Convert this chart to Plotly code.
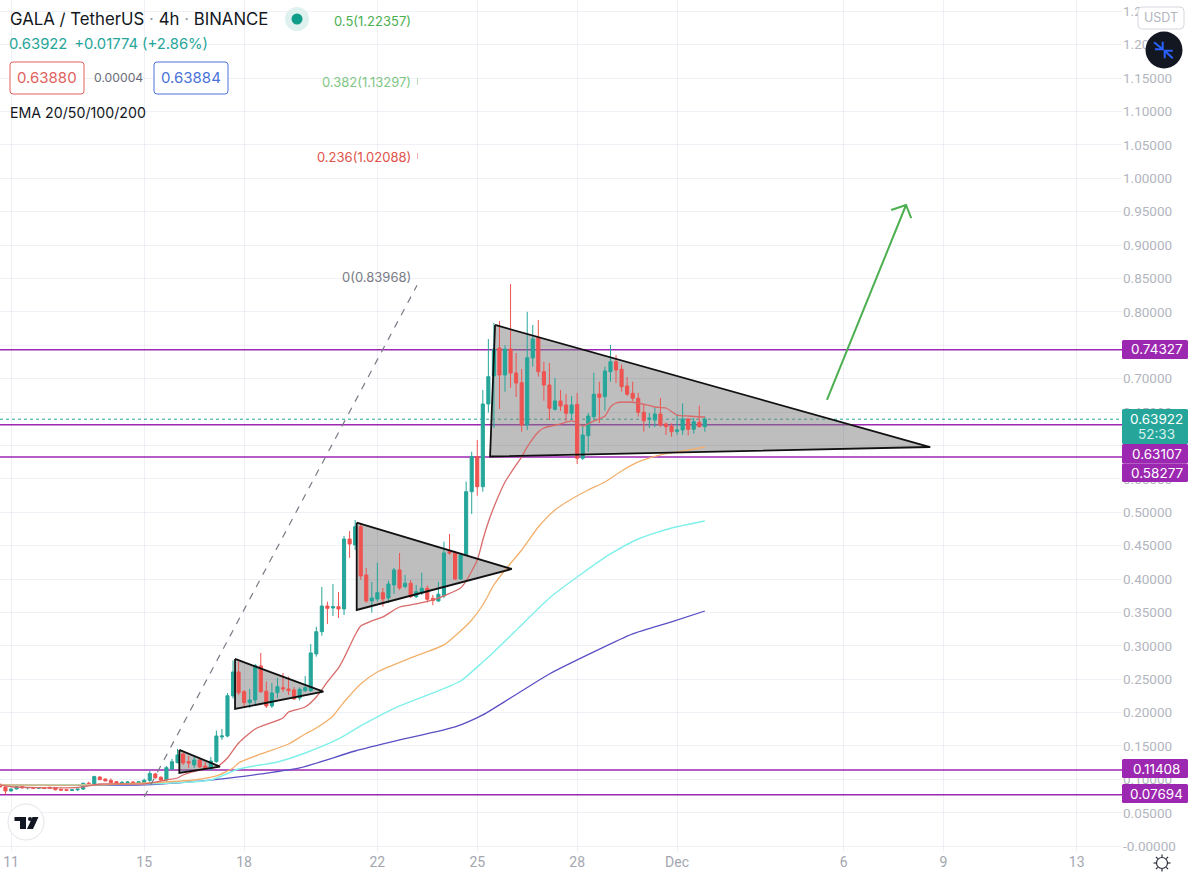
import pandas as pd
import plotly.graph_objects as go

# 4h GALA/USDT candles, first bar 2021-11-10 16:00
opens = [.0927,.0887,.0827,.0857,.0892,.0875,.0878,.0868,.0873,.0880,
         .0880,.0850,.0845,.0835,.0845,.0855,.0942,.0917,.1035,.1005,
         .0985,.0965,.0937,.0950,.0960,.0940,.0945,.0985,.1081,.1033,
         .0990,.1155,.1250,.1380,.1265,.1216,.1290,.1200,.1155,.1265,
         .1635,.1650,.2249,.2608,.2313,.2149,.2189,.2698,.2320,.2099,
         .2298,.2373,.2354,.2339,.2219,.2328,.2328,.2878,.3211,.3596,
         .3566,.3586,.3551,.4599,.4509,.4783,.4060,.3671,.3701,.3795,
         .3716,.3910,.4135,.3886,.3936,.3735,.3791,.3861,.3711,.3671,
         .3746,.4409,.4390,.4000,.4360,.5307,.5832,.5382,.6620,.7039,
         .7458,.7054,.7443,.7084,.6939,.6306,.7309,.7612,.7104,.6904,
         .6541,.6665,.6605,.6481,.6615,.5807,.6146,.6430,.6770,.6730,
         .7104,.7253,.7140,.6890,.6780,.6705,.6496,.6391,.6380,.6470,
         .6321,.6291,.6211,.6231,.6395,.6241,.6346,.6281]
highs = [.0935,.0890,.0860,.0895,.0897,.0885,.0885,.0880,.0885,.0895,
         .0885,.0860,.0850,.0850,.0860,.0950,.0965,.1055,.1050,.1015,
         .1015,.0975,.0975,.0975,.0975,.0975,.1010,.1125,.1100,.1045,
         .1200,.1306,.1456,.1395,.1350,.1335,.1310,.1260,.1335,.1730,
         .1755,.2293,.2780,.2762,.2339,.2354,.2728,.2893,.2463,.2444,
         .2518,.2593,.2538,.2380,.2380,.2548,.3027,.3286,.3881,.3661,
         .3925,.3806,.4644,.4719,.4884,.4839,.4165,.3955,.4244,.3866,
         .3975,.4165,.4390,.4060,.3985,.3910,.4095,.3905,.3761,.3960,
         .4559,.4674,.4420,.4390,.5457,.5906,.6081,.6830,.7593,.7833,
         .7863,.7503,.8416,.7384,.7144,.8000,.7803,.7877,.7253,.7234,
         .7009,.6830,.6770,.6740,.6785,.6306,.6485,.7089,.6954,.7179,
         .7503,.7354,.7210,.7024,.6954,.6789,.6605,.6485,.6580,.6710,
         .6345,.6330,.6470,.6630,.6410,.6410,.6595,.6430]
lows = [.0885,.0777,.0820,.0850,.0860,.0850,.0855,.0860,.0855,.0860,
        .0835,.0830,.0825,.0825,.0825,.0840,.0910,.0905,.0990,.0970,
        .0945,.0930,.0930,.0930,.0930,.0935,.0930,.0945,.1010,.0975,
        .0975,.1141,.1240,.1216,.1170,.1170,.1170,.1155,.1130,.1250,
        .1590,.1630,.2210,.2264,.2090,.2069,.2114,.2294,.2069,.2069,
        .2219,.2313,.2264,.2190,.2180,.2310,.2310,.2837,.3151,.3327,
        .3446,.3416,.3461,.4315,.4434,.3985,.3641,.3496,.3661,.3586,
        .3641,.3776,.3836,.3861,.3716,.3716,.3761,.3650,.3607,.3660,
        .3716,.4360,.3985,.3985,.4350,.4973,.5247,.5307,.6490,.6261,
        .6545,.6804,.6860,.6725,.6205,.6231,.7179,.7029,.6669,.6380,
        .6520,.6515,.6355,.6380,.5722,.5782,.5906,.6380,.6335,.6520,
        .6954,.6934,.6804,.6740,.6660,.6430,.6205,.6261,.6276,.6276,
        .6156,.6131,.6160,.6160,.6150,.6175,.6270,.6205]
closes = [.0887,.0827,.0857,.0892,.0875,.0878,.0868,.0873,.0865,.0868,
          .0845,.0840,.0835,.0845,.0855,.0942,.0917,.1042,.0995,.0977,
          .0952,.0937,.0955,.0960,.0940,.0965,.0987,.1090,.1025,.0990,
          .1175,.1265,.1366,.1246,.1246,.1290,.1186,.1170,.1275,.1650,
          .1650,.2253,.2608,.2298,.2149,.2189,.2703,.2313,.2099,.2294,
          .2388,.2354,.2328,.2204,.2349,.2373,.2893,.3211,.3596,.3561,
          .3586,.3551,.4599,.4524,.4783,.4045,.3671,.3716,.3795,.3701,
          .3925,.4135,.3865,.3936,.3735,.3810,.3861,.3696,.3676,.3772,
          .4390,.4390,.4000,.4360,.5307,.5832,.5382,.6620,.7029,.7443,
          .7054,.7443,.7084,.6934,.6306,.7313,.7593,.7104,.6904,.6556,
          .6665,.6590,.6481,.6605,.5807,.6156,.6440,.6766,.6720,.7114,
          .7253,.7129,.6879,.6766,.6705,.6496,.6370,.6406,.6470,.6306,
          .6281,.6205,.6231,.6395,.6241,.6355,.6281,.6392]

# moving averages: bar number (4h steps after 2021-11-11 00:00) and value
ema20_bars = [-2,0,10,13,16,24,28,30,31,35,37,39,41,44,49,50,53,55,57,59,60,62,63,65,67,70,73,76,
              81,82,84,85,86,87,89,91,92,93,95,96,99,101,102,103,105,107,108,109,111,113,116,118,120,122,125]
ema20_vals = [.0917,.0890,.0872,.0887,.0931,.0931,.0991,.1021,.1066,.1156,.1186,.1320,.1545,.1755,
              .1920,.2010,.2084,.2234,.2459,.2668,.2818,.3162,.3297,.3372,.3432,.3581,.3626,.3686,
              .3866,.3970,.4285,.4584,.4854,.5078,.5452,.5707,.5827,.5977,.6201,.6261,.6321,.6366,
              .6336,.6291,.6366,.6440,.6575,.6635,.6650,.6635,.6575,.6560,.6455,.6440,.6425]
ema50_bars = [-2,15,24,33,37,40,41,45,50,53,55,58,60,63,66,72,78,81,83,85,87,89,92,95,98,101,104,107,110,113,117,121,125]
ema50_vals = [.0917,.0917,.0946,.0991,.1051,.1171,.1246,.1381,.1530,.1680,.1770,.1950,.2159,.2429,.2608,
              .2818,.3013,.3222,.3387,.3611,.3911,.4135,.4434,.4779,.5034,.5198,.5333,.5452,.5617,.5752,
              .5857,.5916,.5976]
ema100_bars = [-2,24,36,41,48,53,59,63,70,76,81,85,87,92,97,103,108,113,119,125]
ema100_vals = [.0917,.0931,.0991,.1156,.1261,.1395,.1605,.1800,.2099,.2294,.2473,.2758,.2908,.3312,.3716,
               .4090,.4375,.4599,.4764,.4869]
ema200_bars = [-2,24,38,45,52,62,70,80,85,90,97,105,112,119,125]
ema200_vals = [.0917,.0917,.1007,.1081,.1171,.1425,.1590,.1785,.1965,.2219,.2578,.2908,.3177,.3357,.3521]

# horizontal levels drawn across the chart, and their axis tags
level_prices = [.74327, .63107, .58277, .11408, .07694]
last_price = .63922

# fibonacci extension labels
fib_ratios = ["0.5", "0.382", "0.236", "0"]
fib_prices = [1.22357, 1.13297, 1.02088, .83968]

# drawn patterns
tri_big_t = ["2021-11-25 12:50", "2021-11-25 09:14", "2021-12-08 14:24"]
tri_big_p = [.7803, .5834, .5976]
tri_mid_t = ["2021-11-21 09:07", "2021-11-21 09:07", "2021-11-26 00:54"]
tri_mid_p = [.4843, .3536, .4150]
tri_small_t = ["2021-11-17 17:27", "2021-11-17 17:27", "2021-11-20 09:07"]
tri_small_p = [.2803, .2054, .2313]
tri_tiny_t = ["2021-11-16 01:18", "2021-11-16 01:18", "2021-11-17 06:37"]
tri_tiny_p = [.1441, .1096, .1191]
fib_line_t = ["2021-11-15 00:00", "2021-11-23 04:36"]
fib_line_p = [.0737, .83968]
arrow_t = ["2021-12-05 12:00", "2021-12-07 21:00", "2021-12-07 10:19", "2021-12-07 21:00", "2021-12-08 00:43"]
arrow_p = [.6680, .9599, .9524, .9599, .9404]

# axis ticks
date_ticks = ["2021-11-11", "2021-11-15", "2021-11-18", "2021-11-22", "2021-11-25",
              "2021-11-28", "2021-12-01", "2021-12-06", "2021-12-09", "2021-12-13"]
date_labels = ["11", "15", "18", "22", "25", "28", "Dec", "6", "9", "13"]
price_ticks = [i * 0.05 for i in range(26)]
hidden_price_labels = ["0.60000", "0.75000"]

TEAL, RED, PURPLE, BLACK = "#26a69a", "#ef5350", "#9c27b0", "#131722"
GRID = "rgba(50,70,130,0.075)"
FONT = "Inter"
PLOT_W, PLOT_H = 1122, 852


def px(x):
    return x / PLOT_W


def py(y):
    return 1 - y / PLOT_H


def bar_times(bars):
    return pd.Timestamp("2021-11-11") + pd.to_timedelta([b * 4 for b in bars], unit="h")


def tri_path(ts, ps):
    pts = [f"{t.replace(' ', '_')} {p}" for t, p in zip(ts, ps)]
    return "M " + " L ".join(pts) + " Z"


def rounded(x0, y0, x1, y1, r):
    return (f"M {px(x0 + r)} {py(y0)} L {px(x1 - r)} {py(y0)} Q {px(x1)} {py(y0)} {px(x1)} {py(y0 + r)} "
            f"L {px(x1)} {py(y1 - r)} Q {px(x1)} {py(y1)} {px(x1 - r)} {py(y1)} "
            f"L {px(x0 + r)} {py(y1)} Q {px(x0)} {py(y1)} {px(x0)} {py(y1 - r)} "
            f"L {px(x0)} {py(y0 + r)} Q {px(x0)} {py(y0)} {px(x0 + r)} {py(y0)} Z")


def ema_line(bars, vals, color, width):
    return go.Scatter(x=bar_times(bars), y=vals, mode="lines", hoverinfo="skip",
                      line=dict(color=color, width=width, shape="spline", smoothing=0.6))


candle_times = pd.date_range("2021-11-10 16:00", periods=len(opens), freq="4h")
fig = go.Figure()

fig.add_trace(ema_line(ema200_bars, ema200_vals, "#5b4fc4", 1.3))
fig.add_trace(ema_line(ema100_bars, ema100_vals, "#7ff0ea", 1.4))
fig.add_trace(ema_line(ema50_bars, ema50_vals, "#f2b06c", 1.3))
fig.add_trace(go.Candlestick(
    x=candle_times, open=opens, high=highs, low=lows, close=closes,
    increasing=dict(line=dict(color=TEAL, width=1), fillcolor=TEAL),
    decreasing=dict(line=dict(color=RED, width=1), fillcolor=RED),
    whiskerwidth=0, hoverinfo="skip",
))
fig.add_trace(ema_line(ema20_bars, ema20_vals, "#d96a6a", 1.3))

# triangle outlines sit on top of the candles
for ts, ps in [(tri_big_t, tri_big_p), (tri_mid_t, tri_mid_p), (tri_small_t, tri_small_p), (tri_tiny_t, tri_tiny_p)]:
    fig.add_trace(go.Scatter(x=ts + ts[:1], y=ps + ps[:1], mode="lines", line=dict(color="#111111", width=1.8), hoverinfo="skip"))

fig.add_trace(go.Scatter(x=fib_line_t, y=fib_line_p, mode="lines", line=dict(color="#787b86", width=1.2, dash="7px,7px"), hoverinfo="skip"))
fig.add_trace(go.Scatter(x=arrow_t, y=arrow_p, mode="lines", line=dict(color="#4caf50", width=2), hoverinfo="skip"))

shapes = []
# grey triangle fills under everything
for ts, ps in [(tri_big_t, tri_big_p), (tri_mid_t, tri_mid_p), (tri_small_t, tri_small_p), (tri_tiny_t, tri_tiny_p)]:
    shapes.append(dict(type="path", path=tri_path(ts, ps), xref="x", yref="y", layer="below",
                       fillcolor="rgba(125,125,125,0.5)", line=dict(width=0)))
# level lines
for lvl in level_prices:
    shapes.append(dict(type="line", xref="paper", yref="y", x0=0, x1=1, y0=lvl, y1=lvl, layer="below",
                       line=dict(color=PURPLE, width=1.5)))
shapes.append(dict(type="line", xref="paper", yref="y", x0=0, x1=1, y0=last_price, y1=last_price, layer="below",
                   line=dict(color=TEAL, width=1, dash="dot")))
# short end marks beside the fibonacci labels
for y0, y1, col in [(78, 85, "#b5dcb7"), (153, 159, "#f0b0ae")]:
    shapes.append(dict(type="line", xref="paper", yref="paper", x0=px(417.5), x1=px(417.5), y0=py(y0), y1=py(y1),
                       line=dict(color=col, width=1)))


def paper_rect(x0, y0, x1, y1, fill, line=None, r=0):
    d = dict(type="path", xref="paper", yref="paper", path=rounded(x0, y0, x1, y1, r), fillcolor=fill, layer="above")
    d["line"] = dict(color=line, width=1) if line else dict(width=0)
    return d


def paper_circle(cx, cy, r, fill, line=None, width=1):
    return dict(type="circle", xref="paper", yref="paper", x0=px(cx - r), x1=px(cx + r), y0=py(cy + r), y1=py(cy - r),
                fillcolor=fill, layer="above",
                line=dict(color=line, width=width) if line else dict(width=0))


def paper_poly(points, fill=None, line=None, width=1):
    path = "M " + " L ".join(f"{px(a)} {py(b)}" for a, b in points)
    if fill:
        path += " Z"
    d = dict(type="path", xref="paper", yref="paper", path=path, layer="above")
    if fill:
        d["fillcolor"] = fill
    d["line"] = dict(color=line, width=width) if line else dict(width=0)
    return d


# clip the time scale strip under the price labels
shapes.append(paper_rect(1118, 851, 1200, 878, "#ffffff"))

# quote boxes in the header
shapes.append(paper_rect(10, 62, 84, 94, "#ffffff", line="#e0625c", r=3))
shapes.append(paper_rect(154, 62, 228, 94, "#ffffff", line="#4a72d8", r=3))
shapes.append(paper_circle(297, 19, 12, "#dff1ee"))
shapes.append(paper_circle(297, 19, 5.5, "#0f9d8a"))

# axis tags
tag_spans = [(340, 359), (444, 463.5), (463.5, 482), (759, 778), (784, 803)]
for y0, y1 in tag_spans:
    shapes.append(paper_rect(1122, y0, 1188, y1, PURPLE, r=1.5))
shapes.append(paper_rect(1122, 409, 1188, 444, TEAL, r=1.5))

# currency box and collapse button
shapes.append(paper_rect(1138, 7, 1184, 29, "#ffffff", line="#d6d8de", r=4))
shapes.append(paper_circle(1164, 50, 18.5, BLACK))
for pts in [[(1154, 42.3), (1162.7, 49.3)], [(1155, 49.3), (1162.7, 49.3), (1162.7, 41.7)],
            [(1172.7, 58.3), (1164.7, 50.7)], [(1172.7, 50.7), (1164.7, 50.7), (1164.7, 58.3)]]:
    shapes.append(paper_poly(pts, line="#2962ff", width=2))

# logo badge
shapes.append(paper_circle(26, 822, 18, "#ffffff", line="#e3e4e8"))
shapes.append(paper_poly([(14.5, 817), (26, 817), (26, 829), (20, 829), (20, 821), (14.5, 821)], fill=BLACK))
shapes.append(paper_circle(30, 819, 2, BLACK))
shapes.append(paper_poly([(32.5, 817), (38.5, 817), (33, 829), (27, 829)], fill=BLACK))

# settings gear
shapes.append(paper_circle(1162, 863, 5.5, "#ffffff", line="#2a2e39", width=1.2))
for a, b, c, d in [(1162, 854.5, 1162, 857), (1162, 869, 1162, 871.5), (1153.5, 863, 1156, 863), (1168, 863, 1170.5, 863),
                   (1156, 857, 1157.7, 858.7), (1166.3, 867.3, 1168, 869), (1156, 869, 1157.7, 867.3), (1166.3, 858.7, 1168, 857)]:
    shapes.append(paper_poly([(a, b), (c, d)], line="#2a2e39", width=1.2))

ann = []


def text(x, y, s, size, color, anchor="left"):
    ann.append(dict(x=px(x), y=py(y), xref="paper", yref="paper", text=s, showarrow=False, xanchor=anchor,
                    yanchor="middle", font=dict(family=FONT, size=size, color=color), borderpad=0))


text(9, 19, 'GALA / TetherUS <span style="color:#9aa0a8">·</span> 4h <span style="color:#9aa0a8">·</span> BINANCE', 16.8, BLACK)
text(8, 44, "0.63922 &#8201;+0.01774 (+2.86%)", 14.8, TEAL)
text(47, 78, "0.63880", 15, "#e0625c", "center")
text(118.5, 78, "0.00004", 12.2, "#6a6d78", "center")
text(191, 78, "0.63884", 15, "#4a72d8", "center")
text(9, 113, "EMA 20/50/100/200", 14.2, BLACK)

for ratio, price, col, y in zip(fib_ratios, fib_prices, ["#4caf50", "#81c784", "#e0524a", "#787b86"], [21, 82, 157, 277]):
    text(412, y, f"{ratio}({price:.5f})", 13, col, "right")

for lvl, (y0, y1) in zip(level_prices, tag_spans):
    text(1156.5, (y0 + y1) / 2, f"{lvl:.5f}", 13.5, "#ffffff", "center")
text(1156.5, 419, f"{last_price:.5f}", 13.5, "#ffffff", "center")
text(1156.5, 434, "52:33", 13.5, "#d6f0ed", "center")
text(1161, 18, "USDT", 12.5, "#b2b5be", "center")


def price_label(v):
    s = f"{v:.5f}"
    if s in hidden_price_labels:
        return ""
    return "-" + s if v == 0 else s


fig.update_layout(
    width=1200, height=878, autosize=False, showlegend=False,
    margin=dict(l=0, r=78, t=0, b=26),
    paper_bgcolor="#ffffff", plot_bgcolor="#ffffff",
    font=dict(family=FONT), boxgap=0.3, boxgroupgap=0.2,
    shapes=shapes, annotations=ann,
    xaxis=dict(
        type="date", range=["2021-11-10 16:04", "2021-12-14 08:38"], rangeslider=dict(visible=False),
        tickmode="array", tickvals=date_ticks, ticktext=date_labels, ticks="",
        tickfont=dict(family="Roboto", size=14, color="#a3a6af"), showgrid=True, gridcolor=GRID, gridwidth=1,
        showline=False, zeroline=False,
    ),
    yaxis=dict(
        side="right", range=[-0.0087, 1.2668], tickmode="array", tickvals=price_ticks,
        ticktext=[price_label(v) for v in price_ticks], ticks="",
        tickfont=dict(family="Roboto", size=13.5, color="#b2b5be"), showgrid=True, gridcolor=GRID, gridwidth=1,
        showline=False, zeroline=False, automargin=False, ticklabelposition="outside",
    ),
)

fig.write_html("out.html")
